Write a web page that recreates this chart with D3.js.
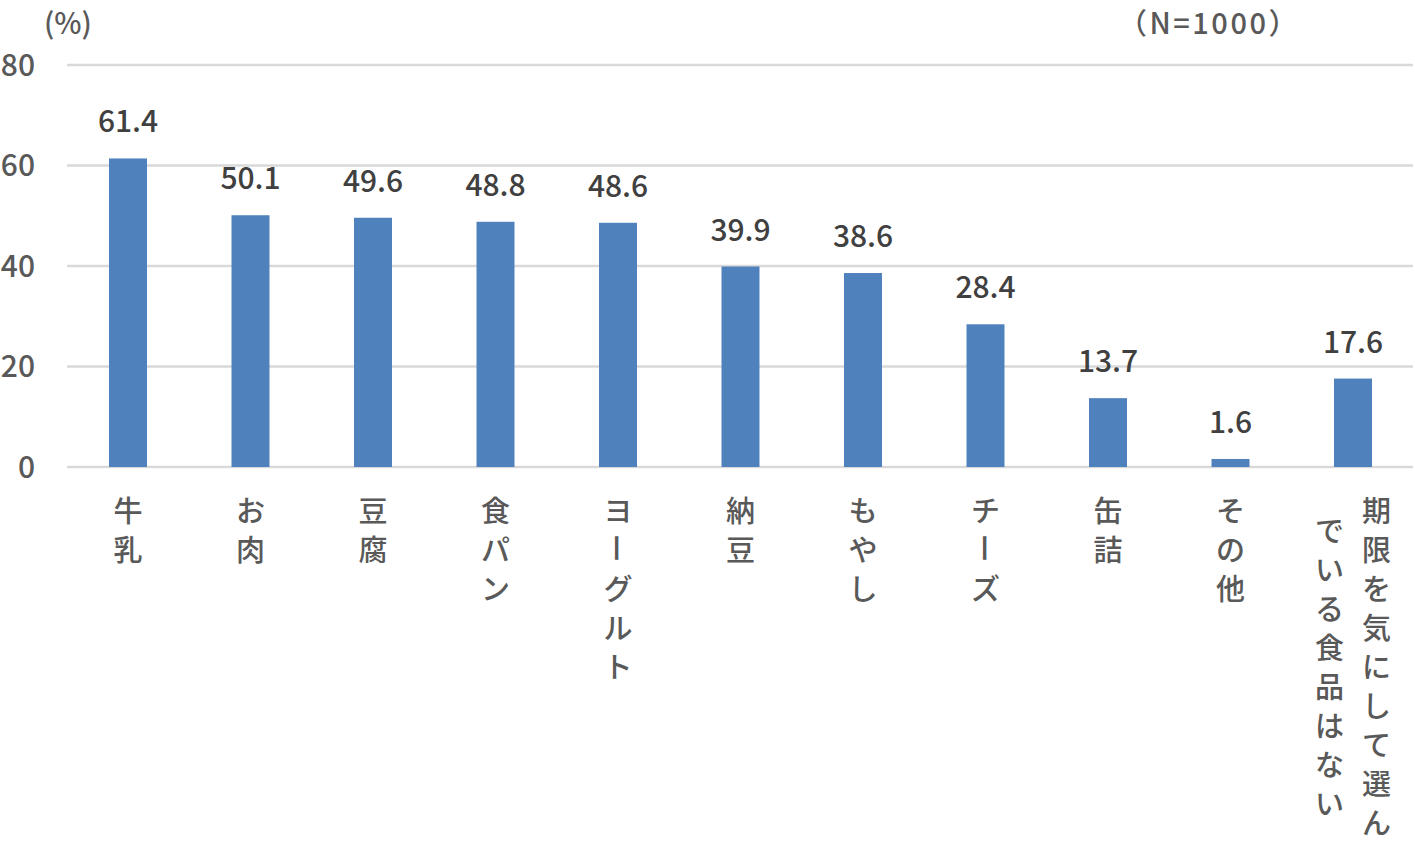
<!DOCTYPE html>
<html><head><meta charset="utf-8">
<script src="https://cdn.jsdelivr.net/npm/d3@7"></script>
<style>
html,body{margin:0;padding:0;background:#fff;}
svg{display:block;font-family:"Noto Sans CJK JP","Noto Sans",sans-serif;font-weight:500;}
</style></head>
<body>
<script>
const categories = [["牛乳"],["お肉"],["豆腐"],["食パン"],["ヨーグルト"],["納豆"],["もやし"],["チーズ"],["缶詰"],["その他"],["期限を気にして選ん","でいる食品はない"]];
const values = [61.4,50.1,49.6,48.8,48.6,39.9,38.6,28.4,13.7,1.6,17.6];
const yTicks = [0,20,40,60,80];
const unitLabel = "(%)";
const nLabel = "（N=1000）";

const W=1415,H=842;
const svg=d3.select("body").append("svg").attr("width",W).attr("height",H);
const x=d3.scaleBand().domain(d3.range(categories.length)).range([66.75,1414.25]).paddingInner(0.69).paddingOuter(0.345);
const y=d3.scaleLinear().domain([0,80]).range([467,65]);

svg.append("g").selectAll("line").data(yTicks).join("line")
  .attr("x1",67).attr("x2",1413).attr("y1",d=>y(d)).attr("y2",d=>y(d))
  .attr("stroke","#d9d9d9").attr("stroke-width",2.5);

svg.append("g").selectAll("text").data(yTicks).join("text")
  .attr("x",35).attr("y",d=>y(d)).attr("dy","0.36em").attr("text-anchor","end")
  .attr("font-size",30).attr("fill","#595959").text(d=>d);

svg.append("g").selectAll("rect").data(values).join("rect")
  .attr("x",(d,i)=>x(i)).attr("width",x.bandwidth())
  .attr("y",d=>y(d)).attr("height",d=>y(0)-y(d)).attr("fill","#4f81bd");

svg.append("g").selectAll("text").data(values).join("text")
  .attr("x",(d,i)=>x(i)+x.bandwidth()/2).attr("y",d=>y(d)-26)
  .attr("text-anchor","middle").attr("font-size",30).attr("fill","#404040")
  .text(d=>d.toFixed(1));

const step=39, top0=509, fs=29;
categories.forEach((cols,i)=>{
  const cx=x(i)+x.bandwidth()/2;
  const maxLen=d3.max(cols,c=>[...c].length);
  const n=cols.length;
  cols.forEach((col,j)=>{
    const colX = cx + (n>1 ? ((n-1)/2 - j) * 47 : 0);
    const chars=[...col];
    const off=(maxLen-chars.length)*step/2;
    chars.forEach((ch,k)=>{
      const t=svg.append("text")
        .attr("text-anchor","middle").attr("dominant-baseline","central")
        .attr("font-size",fs).attr("fill","#595959").text(ch);
      const cy=top0+off+k*step;
      if(ch==="ー") t.attr("transform",`translate(${colX},${cy}) rotate(90)`);
      else t.attr("x",colX).attr("y",cy);
    });
  });
});

svg.append("text").attr("x",44).attr("y",34).attr("font-size",29).attr("fill","#595959").text(unitLabel);
svg.append("text").attr("x",1118).attr("y",34).attr("letter-spacing",2.5).attr("font-size",29).attr("fill","#595959").text(nLabel);
</script>
</body></html>
